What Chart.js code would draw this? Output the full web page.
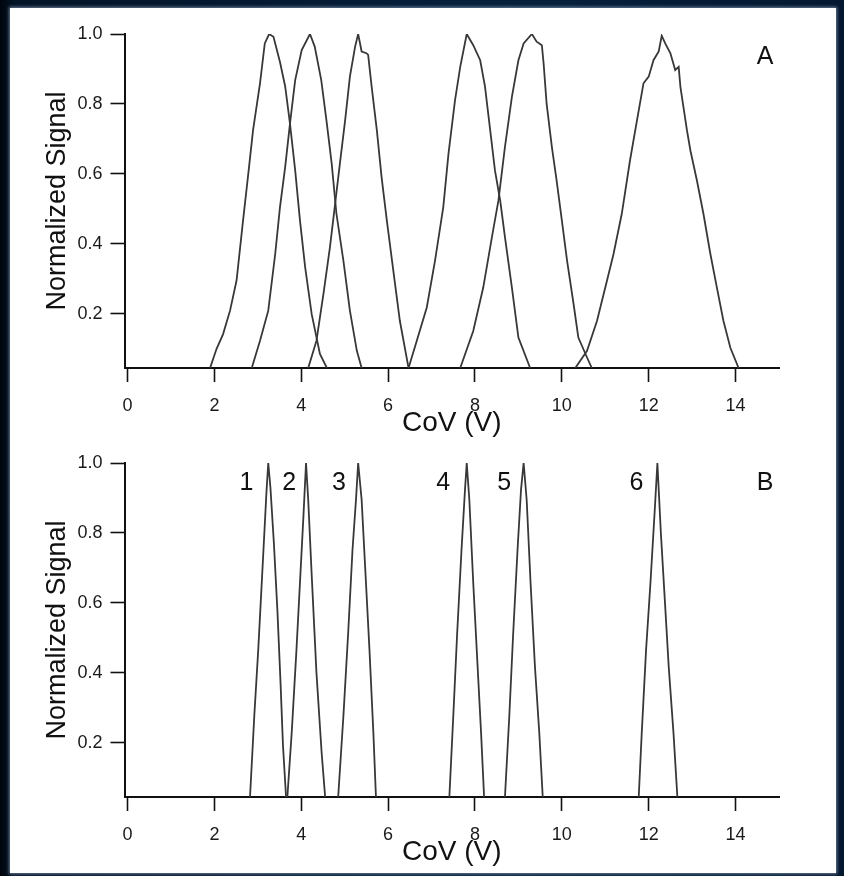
<!DOCTYPE html>
<html>
<head>
<meta charset="utf-8">
<script src="https://cdn.jsdelivr.net/npm/chart.js@4.4.1/dist/chart.umd.min.js"></script>
<style>
  html, body { margin: 0; padding: 0; }
  body {
    width: 844px; height: 876px; position: relative; overflow: hidden;
    background: linear-gradient(90deg, #00050d 0px, #031427 14px, #06203c 60%, #041830 100%);
  }
  #panel {
    position: absolute; left: 10px; top: 8px; width: 826px; height: 865px;
    background: #fff; box-shadow: 0 0 3px 1px rgba(150, 170, 195, 0.7);
  }
  canvas { position: absolute; left: 0; }
  #chartA { top: 0; }
  #chartB { top: 429px; }
</style>
</head>
<body>
<div id="panel"></div>
<canvas id="chartA" width="844" height="440"></canvas>
<canvas id="chartB" width="844" height="440"></canvas>
<script>
// axis ranges and tick values
const xMin = -0.07, xMax = 15;
const yMin = 0.045, yMax = 1.0;
const xTicks = [0, 2, 4, 6, 8, 10, 12, 14];
const yTicks = [0.2, 0.4, 0.6, 0.8, 1.0];

// panel A: broad peaks, [CoV, signal]
const peakA1 = [[1.90,0.045],[2.05,0.10],[2.20,0.142],[2.36,0.209],[2.51,0.295],[2.66,0.467],[2.78,0.60],[2.89,0.725],[3.05,0.859],[3.16,0.973],[3.26,1.0],[3.36,0.992],[3.51,0.92],[3.63,0.85],[3.74,0.744],[3.86,0.61],[3.97,0.467],[4.09,0.333],[4.24,0.199],[4.43,0.085],[4.59,0.045]];
const peakA2 = [[2.86,0.045],[3.05,0.123],[3.24,0.209],[3.40,0.371],[3.51,0.505],[3.63,0.62],[3.74,0.744],[3.86,0.868],[4.01,0.954],[4.20,1.0],[4.31,0.964],[4.46,0.868],[4.58,0.753],[4.70,0.63],[4.81,0.486],[4.97,0.352],[5.12,0.209],[5.28,0.094],[5.39,0.045]];
const peakA3 = [[4.16,0.045],[4.35,0.123],[4.51,0.256],[4.66,0.39],[4.78,0.515],[4.89,0.63],[5.01,0.753],[5.12,0.878],[5.24,0.964],[5.31,1.0],[5.39,0.95],[5.50,0.945],[5.54,0.94],[5.62,0.85],[5.74,0.725],[5.85,0.59],[5.97,0.467],[6.12,0.323],[6.27,0.18],[6.47,0.045]];
const peakA4 = [[6.47,0.045],[6.66,0.123],[6.89,0.218],[7.08,0.352],[7.27,0.505],[7.39,0.658],[7.54,0.81],[7.66,0.906],[7.81,1.0],[7.96,0.968],[8.12,0.925],[8.23,0.85],[8.35,0.725],[8.46,0.61],[8.58,0.524],[8.69,0.419],[8.85,0.275],[9.00,0.132],[9.27,0.045]];
const peakA5 = [[7.66,0.045],[7.96,0.151],[8.19,0.275],[8.39,0.419],[8.54,0.524],[8.69,0.677],[8.85,0.82],[9.00,0.925],[9.12,0.973],[9.31,1.0],[9.42,0.978],[9.54,0.968],[9.58,0.916],[9.65,0.80],[9.77,0.677],[9.88,0.581],[10.00,0.467],[10.12,0.352],[10.27,0.228],[10.38,0.132],[10.58,0.075],[10.69,0.045]];
const peakA6 = [[10.31,0.045],[10.58,0.094],[10.81,0.18],[11.04,0.295],[11.19,0.371],[11.38,0.486],[11.57,0.639],[11.73,0.753],[11.88,0.859],[12.00,0.878],[12.11,0.925],[12.23,0.95],[12.30,0.995],[12.38,0.973],[12.50,0.945],[12.61,0.897],[12.69,0.906],[12.73,0.849],[12.88,0.725],[12.96,0.667],[13.11,0.581],[13.26,0.486],[13.42,0.371],[13.57,0.275],[13.72,0.18],[13.88,0.103],[14.07,0.045]];

// panel B: narrow peaks
const peakB1 = [[2.82,0.045],[2.92,0.28],[3.01,0.467],[3.13,0.752],[3.20,0.92],[3.24,1.0],[3.29,0.93],[3.37,0.77],[3.45,0.58],[3.52,0.38],[3.58,0.19],[3.65,0.045]];
const peakB2 = [[3.68,0.045],[3.78,0.229],[3.89,0.467],[3.97,0.657],[4.05,0.848],[4.11,1.0],[4.16,0.895],[4.24,0.68],[4.35,0.40],[4.47,0.17],[4.55,0.045]];
const peakB3 = [[4.85,0.045],[4.97,0.276],[5.08,0.514],[5.18,0.752],[5.26,0.895],[5.31,1.0],[5.39,0.895],[5.47,0.705],[5.57,0.467],[5.66,0.229],[5.72,0.045]];
const peakB4 = [[7.41,0.045],[7.50,0.276],[7.59,0.514],[7.69,0.752],[7.77,0.924],[7.81,1.0],[7.87,0.895],[7.96,0.657],[8.06,0.419],[8.14,0.229],[8.21,0.045]];
const peakB5 = [[8.69,0.045],[8.79,0.276],[8.88,0.514],[8.98,0.752],[9.06,0.924],[9.12,1.0],[9.19,0.895],[9.28,0.657],[9.38,0.419],[9.48,0.229],[9.56,0.045]];
const peakB6 = [[11.77,0.045],[11.84,0.229],[11.94,0.467],[12.04,0.657],[12.14,0.867],[12.20,1.0],[12.28,0.8],[12.37,0.61],[12.46,0.419],[12.57,0.229],[12.66,0.045]];

const peakNames = ['1', '2', '3', '4', '5', '6'];

const FONT = 'Liberation Sans, Arial, Helvetica, sans-serif';

// text placed at data coordinates
const textMarks = {
  id: 'textMarks',
  afterDatasetsDraw(chart, args, opts) {
    const { ctx, scales: { x, y } } = chart;
    ctx.save();
    ctx.font = opts.size + 'px ' + FONT;
    ctx.fillStyle = '#111';
    ctx.textAlign = 'center';
    ctx.textBaseline = 'middle';
    (opts.items || []).forEach(it => {
      ctx.fillText(it.text, x.getPixelForValue(it.x), y.getPixelForValue(it.y));
    });
    ctx.restore();
  }
};

function makeChart(id, peaks, items) {
  return new Chart(document.getElementById(id), {
    type: 'line',
    data: {
      datasets: peaks.map(p => ({
        data: p.map(([x, y]) => ({ x, y })),
        borderColor: '#383838',
        borderWidth: 1.8,
        pointRadius: 0,
        tension: 0,
        fill: false
      }))
    },
    options: {
      responsive: false,
      animation: false,
      layout: { padding: { top: 34, left: 0, right: 65, bottom: 0 } },
      plugins: {
        legend: { display: false },
        tooltip: { enabled: false },
        textMarks: { size: 25, items }
      },
      scales: {
        x: {
          type: 'linear', min: xMin, max: xMax,
          afterBuildTicks: s => { s.ticks = xTicks.map(v => ({ value: v })); },
          afterFit: s => { s.height = 72; },
          grid: { drawOnChartArea: false, drawTicks: true, tickLength: 14, tickWidth: 1.6, tickColor: '#111' },
          border: { display: true, color: '#111', width: 2 },
          ticks: { font: { family: FONT, size: 18 }, color: '#1a1a1a', padding: 13, maxRotation: 0, autoSkip: false, callback: v => String(v) },
          title: { display: true, text: 'CoV (V)', font: { family: FONT, size: 28 }, color: '#111', padding: { top: 0, bottom: 0 } }
        },
        y: {
          type: 'linear', min: yMin, max: yMax,
          afterBuildTicks: s => { s.ticks = yTicks.map(v => ({ value: v })); },
          afterFit: s => { s.width = 124.5; },
          grid: { drawOnChartArea: false, drawTicks: true, tickLength: 14, tickWidth: 1.6, tickColor: '#111' },
          border: { display: true, color: '#111', width: 2 },
          ticks: { font: { family: FONT, size: 18 }, color: '#1a1a1a', padding: 8, callback: v => v.toFixed(1) },
          title: { display: true, text: 'Normalized Signal', font: { family: FONT, size: 27 }, color: '#111', padding: { top: 41, bottom: 0 } }
        }
      }
    },
    plugins: [textMarks]
  });
}

makeChart('chartA', [peakA1, peakA2, peakA3, peakA4, peakA5, peakA6], [
  { text: 'A', x: 14.68, y: 0.935 }
]);

const labelX = [2.74, 3.72, 4.87, 7.27, 8.67, 11.72];
makeChart('chartB', [peakB1, peakB2, peakB3, peakB4, peakB5, peakB6],
  peakNames.map((t, i) => ({ text: t, x: labelX[i], y: 0.943 }))
    .concat([{ text: 'B', x: 14.68, y: 0.943 }])
);
</script>
</body>
</html>
